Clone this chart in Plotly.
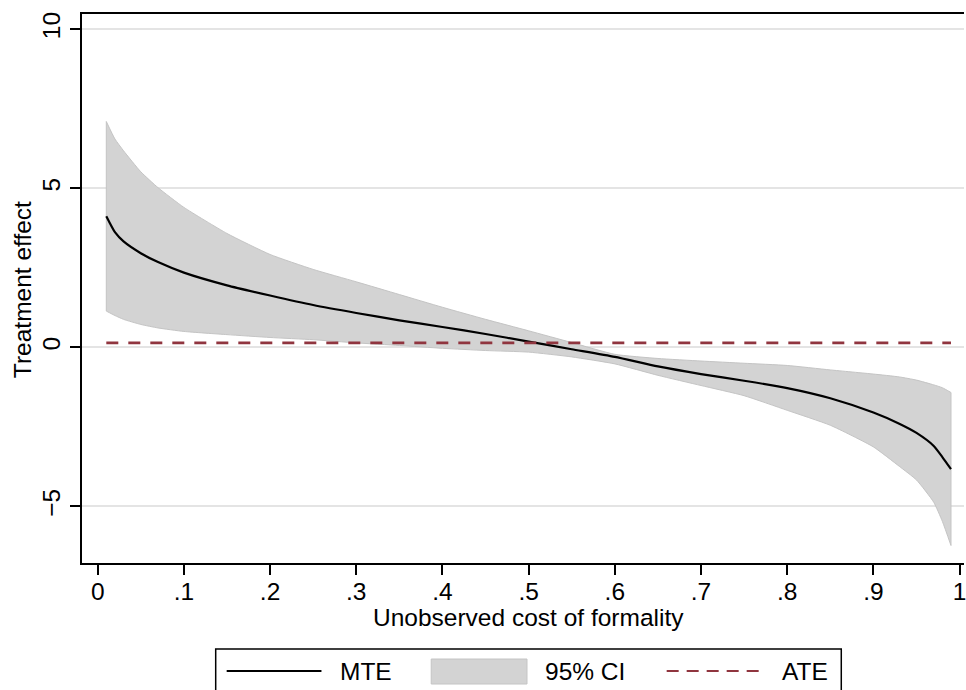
import plotly.graph_objects as go

# Unobserved cost of formality (u_D)
u = [0.01, 0.02, 0.03, 0.05, 0.07, 0.10, 0.15, 0.20, 0.25, 0.30, 0.35, 0.40, 0.45, 0.50,
     0.55, 0.60, 0.65, 0.70, 0.75, 0.80, 0.85, 0.90, 0.93, 0.95, 0.97, 0.98, 0.99]
# Marginal treatment effect
mte = [4.12, 3.62, 3.33, 2.96, 2.68, 2.35, 1.95, 1.63, 1.33, 1.08, 0.85, 0.64, 0.42, 0.18,
       -0.06, -0.30, -0.60, -0.84, -1.05, -1.28, -1.60, -2.05, -2.40, -2.69, -3.10, -3.45, -3.83]
# 95% confidence interval
ci_hi = [7.10, 6.55, 6.18, 5.52, 5.02, 4.40, 3.58, 2.92, 2.45, 2.06, 1.66, 1.26, 0.88, 0.52,
         0.15, -0.22, -0.35, -0.43, -0.50, -0.57, -0.71, -0.84, -0.93, -1.03, -1.18, -1.27, -1.42]
ci_lo = [1.14, 1.00, 0.88, 0.72, 0.61, 0.50, 0.40, 0.31, 0.24, 0.14, 0.06, -0.03, -0.10, -0.15,
         -0.30, -0.52, -0.88, -1.20, -1.52, -1.98, -2.45, -3.13, -3.74, -4.17, -4.87, -5.47, -6.23]
# Average treatment effect
ate = 0.14

x_ticks = [0, 0.1, 0.2, 0.3, 0.4, 0.5, 0.6, 0.7, 0.8, 0.9, 1]
x_ticklabels = ["0", ".1", ".2", ".3", ".4", ".5", ".6", ".7", ".8", ".9", "1"]
y_ticks = [-5, 0, 5, 10]
y_ticklabels = ["\u22125", "0", "5", "10"]

FONT = "Liberation Sans, Arial, Helvetica, sans-serif"
FS = 24.5
BAND = "rgb(211,211,211)"
BAND_EDGE = "rgb(196,196,196)"
ATE_COL = "rgb(144,53,63)"

fig = go.Figure()

fig.add_trace(go.Scatter(
    x=u, y=ci_lo, mode="lines",
    line=dict(color=BAND_EDGE, width=1, shape="spline", smoothing=0.5),
    name="95% CI lower", showlegend=False, hoverinfo="skip"))
fig.add_trace(go.Scatter(
    x=u, y=ci_hi, mode="lines", fill="tonexty", fillcolor=BAND,
    line=dict(color=BAND_EDGE, width=1, shape="spline", smoothing=0.5),
    name="95% CI", showlegend=False, hoverinfo="skip"))
fig.add_trace(go.Scatter(
    x=[u[0], u[0]], y=[ci_lo[0], ci_hi[0]], mode="lines",
    line=dict(color=BAND_EDGE, width=1), showlegend=False, hoverinfo="skip"))
fig.add_trace(go.Scatter(
    x=[u[-1], u[-1]], y=[ci_lo[-1], ci_hi[-1]], mode="lines",
    line=dict(color=BAND_EDGE, width=1), showlegend=False, hoverinfo="skip"))
fig.add_trace(go.Scatter(
    x=u, y=mte, mode="lines", line=dict(color="black", width=2.2, shape="spline", smoothing=0.6),
    name="MTE", showlegend=False))
fig.add_trace(go.Scatter(
    x=[u[0], u[-1]], y=[ate, ate], mode="lines",
    line=dict(color=ATE_COL, width=2.6, dash="12px,10px"),
    name="ATE", showlegend=False))

fig.update_layout(
    width=966, height=690,
    margin=dict(l=82, r=0, t=14, b=127),
    paper_bgcolor="white", plot_bgcolor="white",
    font=dict(family=FONT, size=FS, color="black"),
    showlegend=False,
)
fig.update_xaxes(
    range=[-0.0182, 1.0051], tickvals=x_ticks, ticktext=x_ticklabels,
    showgrid=False, zeroline=False,
    showline=True, linecolor="black", linewidth=2, mirror=True,
    ticks="outside", ticklen=10, tickwidth=1.5, tickcolor="black",
    tickfont=dict(family=FONT, size=FS), ticklabelstandoff=-4,
    ticklabeloverflow="allow",
)
fig.update_yaxes(
    range=[-6.78, 10.48], tickvals=y_ticks, ticktext=y_ticklabels,
    showgrid=True, gridcolor="rgb(228,228,228)", gridwidth=2, zeroline=False,
    showline=True, linecolor="black", linewidth=2,
    ticks="outside", ticklen=10, tickwidth=1.5, tickcolor="black",
    tickangle=-90, tickfont=dict(family=FONT, size=FS),
)

def px_x(p):
    return (p - 82) / 884.0

def px_y(p):
    return (563 - p) / 549.0

# axis titles
fig.add_annotation(x=0.5, xref="x", y=px_y(617), yref="paper", text="Unobserved cost of formality",
                   showarrow=False, xanchor="center", yanchor="middle", font=dict(size=FS))
fig.add_annotation(x=px_x(22), xref="paper", y=px_y(290), yref="paper", text="Treatment effect",
                   showarrow=False, textangle=-90, xanchor="center", yanchor="middle", font=dict(size=FS))

# legend box
fig.add_shape(type="rect", xref="paper", yref="paper",
              x0=px_x(216), x1=px_x(843), y0=px_y(649), y1=px_y(700),
              line=dict(color="black", width=1.5), fillcolor="white")
ly = px_y(671)
fig.add_shape(type="line", xref="paper", yref="paper", x0=px_x(227), x1=px_x(322), y0=ly, y1=ly,
              line=dict(color="black", width=2))
fig.add_annotation(x=px_x(339), xref="paper", y=ly, yref="paper", text="MTE", showarrow=False,
                   xanchor="left", yanchor="middle", font=dict(size=FS))
fig.add_shape(type="rect", xref="paper", yref="paper", x0=px_x(432), x1=px_x(528),
              y0=px_y(659), y1=px_y(684), fillcolor=BAND, line=dict(color=BAND_EDGE, width=1))
fig.add_annotation(x=px_x(544), xref="paper", y=ly, yref="paper", text="95% CI", showarrow=False,
                   xanchor="left", yanchor="middle", font=dict(size=FS))
fig.add_shape(type="line", xref="paper", yref="paper", x0=px_x(668), x1=px_x(763), y0=ly, y1=ly,
              line=dict(color=ATE_COL, width=2, dash="12px,8px"))
fig.add_annotation(x=px_x(782), xref="paper", y=ly, yref="paper", text="ATE", showarrow=False,
                   xanchor="left", yanchor="middle", font=dict(size=FS))

fig.write_html("out.html", config={"displayModeBar": False},
               post_script="document.body.style.margin='0';document.body.style.overflow='hidden';")
